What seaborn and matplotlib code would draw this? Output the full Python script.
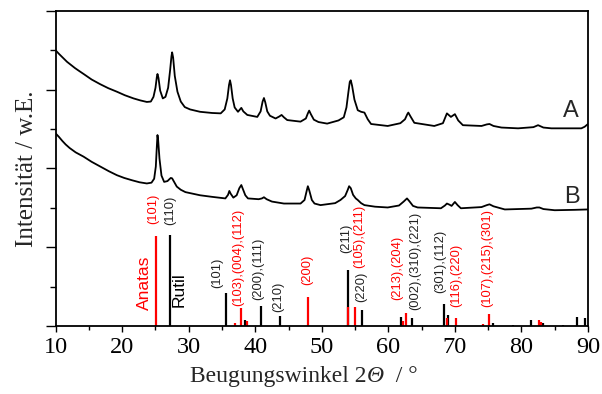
import matplotlib
matplotlib.use("Agg")
import matplotlib.pyplot as plt
import seaborn as sns
import pandas as pd
from matplotlib.ticker import MultipleLocator, NullFormatter
from matplotlib.offsetbox import TextArea, HPacker, AnchoredOffsetbox

# ---- data ----
a_x = [10, 10.5, 11.1, 11.7, 12.3, 12.9, 13.5, 14.2, 15.4, 16.7, 17.9, 19.2, 20.4, 21.7, 22.7, 23.7,
       24.3, 24.7, 25.0, 25.2, 25.3, 25.45, 25.7, 26.1, 26.5, 26.9, 27.2, 27.4, 27.5, 27.65, 27.9,
       28.3, 28.8, 29.4, 30.2, 31.7, 33.5, 34.8, 35.4, 35.8, 36.05, 36.2, 36.35, 36.6, 36.9, 37.4,
       37.7, 37.9, 38.2, 38.8, 40.3, 40.8, 41.1, 41.3, 41.5, 41.8, 42.2, 43.05, 43.6, 43.95, 44.3,
       44.8, 46.8, 47.6, 47.9, 48.1, 48.35, 48.8, 49.5, 50.8, 52.5, 53.3, 53.7, 54.0, 54.2, 54.35,
       54.55, 54.9, 55.4, 55.9, 56.4, 56.9, 57.4, 59.9, 61.8, 62.5, 62.85, 63.0, 63.3, 63.9, 66.9,
       68.2, 68.8, 69.4, 70.0, 70.5, 71.2, 74.0, 74.8, 75.2, 75.8, 77.0, 79.5, 81.8, 82.5, 83.3,
       84.5, 89.0, 89.5, 90.0]
a_y = [7.0, 6.91, 6.81, 6.71, 6.63, 6.55, 6.48, 6.40, 6.26, 6.14, 6.04, 5.95, 5.86, 5.78, 5.73, 5.69,
       5.70, 5.82, 6.05, 6.32, 6.40, 6.30, 5.98, 5.78, 5.82, 6.05, 6.5, 6.85, 6.95, 6.82, 6.35,
       5.95, 5.70, 5.56, 5.50, 5.44, 5.41, 5.40, 5.50, 5.78, 6.12, 6.24, 6.12, 5.78, 5.55, 5.44,
       5.50, 5.54, 5.45, 5.36, 5.31, 5.45, 5.70, 5.79, 5.68, 5.45, 5.34, 5.27, 5.32, 5.36, 5.30,
       5.23, 5.19, 5.27, 5.40, 5.47, 5.38, 5.24, 5.18, 5.14, 5.22, 5.30, 5.55, 5.95, 6.2, 6.24,
       6.1, 5.75, 5.48, 5.44, 5.42, 5.25, 5.13, 5.08, 5.15, 5.25, 5.38, 5.42, 5.33, 5.16, 5.08,
       5.15, 5.40, 5.31, 5.38, 5.22, 5.10, 5.08, 5.12, 5.13, 5.08, 5.04, 5.02, 5.05, 5.10, 5.04,
       5.02, 5.02, 5.06, 5.13]

b_x = [10, 10.5, 11.0, 11.5, 12.1, 13.0, 14.2, 15.4, 16.7, 18.0, 19.2, 20.3, 21.5, 22.6, 23.7, 24.4,
       24.8, 25.05, 25.2, 25.3, 25.4, 25.6, 25.9, 26.3, 26.8, 27.1, 27.3, 27.5, 27.8, 28.2, 28.8,
       29.5, 31.7, 33.5, 35.5, 35.9, 36.1, 36.3, 36.7, 37.2, 37.6, 37.9, 38.2, 38.5, 38.9, 40.5,
       41.0, 41.3, 41.7, 42.5, 44.3, 46.8, 47.4, 47.75, 47.9, 48.1, 48.5, 48.9, 49.8, 52.0, 52.8,
       53.5, 53.9, 54.1, 54.35, 54.7, 55.1, 55.4, 55.9, 56.4, 58.0, 59.9, 61.6, 62.3, 62.8, 63.2,
       63.7, 64.4, 67.9, 68.5, 68.8, 69.2, 69.5, 70.0, 70.4, 70.9, 74.0, 74.8, 75.2, 75.8, 77.5,
       81.5, 82.3, 82.7, 83.3, 85.0, 88.0, 90.0]
b_y = [4.89, 4.80, 4.70, 4.61, 4.52, 4.41, 4.30, 4.17, 4.05, 3.93, 3.83, 3.76, 3.70, 3.65, 3.62, 3.64,
       3.74, 4.05, 4.55, 4.85, 4.72, 4.25, 3.82, 3.66, 3.68, 3.73, 3.76, 3.75, 3.66, 3.54, 3.46,
       3.40, 3.32, 3.28, 3.24, 3.33, 3.43, 3.36, 3.26, 3.32, 3.50, 3.58, 3.45, 3.32, 3.24, 3.22,
       3.24, 3.27, 3.22, 3.16, 3.11, 3.11, 3.2, 3.45, 3.55, 3.45, 3.20, 3.11, 3.07, 3.12, 3.2,
       3.30, 3.46, 3.55, 3.50, 3.33, 3.24, 3.2, 3.12, 3.07, 3.03, 3.01, 3.06, 3.16, 3.24, 3.16,
       3.05, 3.01, 2.99, 3.06, 3.11, 3.08, 3.05, 3.15, 3.07, 2.99, 3.02, 3.07, 3.09, 3.04, 2.96,
       2.98, 3.01, 3.01, 2.97, 2.94, 2.95, 2.96]

anatase_pos = [25.15, 36.9, 37.9, 38.7, 47.98, 54.0, 55.0, 62.15, 62.65, 68.8, 70.2, 74.2, 75.1, 82.6, 82.9]
anatase_h = [2.28, 0.08, 0.45, 0.13, 0.73, 0.47, 0.47, 0.12, 0.34, 0.2, 0.2, 0.04, 0.3, 0.15, 0.1]

rutile_pos = [27.15, 35.67, 38.45, 40.8, 43.65, 53.86, 56.1, 61.9, 63.5, 68.3, 69.0, 75.7, 78.7, 81.5, 83.3, 86.3, 88.4, 89.6]
rutile_h = [2.3, 0.83, 0.15, 0.5, 0.25, 1.42, 0.4, 0.22, 0.2, 0.56, 0.28, 0.07, 0.03, 0.15, 0.07, 0.03, 0.22, 0.2]

anatase_labels = ["(101)", "(103),(004),(112)", "(200)", "(105),(211)", "(213),(204)", "(116),(220)", "(107),(215),(301)"]
anatase_lab_x = [24.7, 37.4, 47.83, 55.6, 61.4, 70.2, 74.85]
anatase_lab_y = [2.59, 0.51, 1.04, 1.47, 0.66, 0.49, 0.49]

rutile_labels = ["(110)", "(101)", "(200),(111)", "(210)", "(211)", "(220)", "(002),(310),(221)", "(301),(112)"]
rutile_lab_x = [27.2, 34.27, 40.5, 43.4, 53.6, 55.86, 64.0, 67.8]
rutile_lab_y = [2.56, 0.96, 0.66, 0.36, 1.85, 0.62, 0.41, 0.83]

x_ticks = [10, 20, 30, 40, 50, 60, 70, 80, 90]

# ---- plot ----
sns.set_theme(style="ticks")
plt.rcParams['font.family'] = ['Liberation Serif', 'DejaVu Serif']

fig = plt.figure(figsize=(6.02, 3.94), dpi=100)
ax = fig.add_axes([0.0925, 0.1726, 0.8842, 0.7995])

df_a = pd.DataFrame({"x": a_x, "y": a_y})
df_b = pd.DataFrame({"x": b_x, "y": b_y})
sns.lineplot(data=df_a, x="x", y="y", ax=ax, color="black", lw=1.3, sort=False, estimator=None)
sns.lineplot(data=df_b, x="x", y="y", ax=ax, color="black", lw=1.3, sort=False, estimator=None)

ax.vlines(rutile_pos, 0, rutile_h, color="black", lw=1.6)
ax.vlines(anatase_pos, 0, anatase_h, color="red", lw=1.6)

sans = ['Liberation Sans', 'DejaVu Sans']
for t, x, y in zip(anatase_labels, anatase_lab_x, anatase_lab_y):
    ax.text(x, y, t, rotation=90, ha="center", va="bottom", color="red", fontsize=9.3, family=sans)
for t, x, y in zip(rutile_labels, rutile_lab_x, rutile_lab_y):
    ax.text(x, y, t, rotation=90, ha="center", va="bottom", color="#222222", fontsize=9.3, family=sans)
ax.text(23.3, 0.41, "Anatas", rotation=90, ha="center", va="bottom", color="red", fontsize=12.5, family=sans)
ax.text(28.6, 0.48, "Rutil", rotation=90, ha="center", va="bottom", color="black", fontsize=12.5, family=sans)

ax.text(87.45, 5.46, "A", ha="center", va="center", fontsize=17, family=sans)
ax.text(87.6, 3.28, "B", ha="center", va="center", fontsize=17, family=sans)

ax.set_xlim(10, 90)
ax.set_ylim(0, 8)
ax.set_xticks(x_ticks)
ax.xaxis.set_minor_locator(MultipleLocator(5))
ax.yaxis.set_major_locator(MultipleLocator(2))
ax.yaxis.set_minor_locator(MultipleLocator(1))
ax.yaxis.set_major_formatter(NullFormatter())
ax.tick_params(axis="x", which="major", direction="out", length=4, width=1.0, labelsize=17.5, pad=4, colors="black")
ax.tick_params(axis="x", which="minor", direction="out", length=3, width=1.0, colors="black")
ax.tick_params(axis="y", which="major", direction="out", length=7, width=1.0, colors="black")
ax.tick_params(axis="y", which="minor", direction="out", length=4, width=1.0, colors="black")
for s in ax.spines.values():
    s.set_visible(True)
    s.set_linewidth(1.3)
    s.set_color("black")

ax.set_xlabel("")
serif = ['Liberation Serif', 'DejaVu Serif']
parts = [
    TextArea("Beugungswinkel 2", textprops=dict(fontsize=17, family=serif)),
    TextArea("Θ", textprops=dict(fontsize=17, family=serif, style="italic")),
    TextArea("  / °", textprops=dict(fontsize=17, family=serif)),
]
box = HPacker(children=parts, align="baseline", pad=0, sep=0)
anch = AnchoredOffsetbox(loc="center", child=box, pad=0, frameon=False,
                         bbox_to_anchor=(0.505, 0.045), bbox_transform=fig.transFigure, borderpad=0)
fig.add_artist(anch)

ax.set_ylabel("Intensität / w.E.", fontsize=18, labelpad=2)

fig.savefig("out.png", dpi=100)
